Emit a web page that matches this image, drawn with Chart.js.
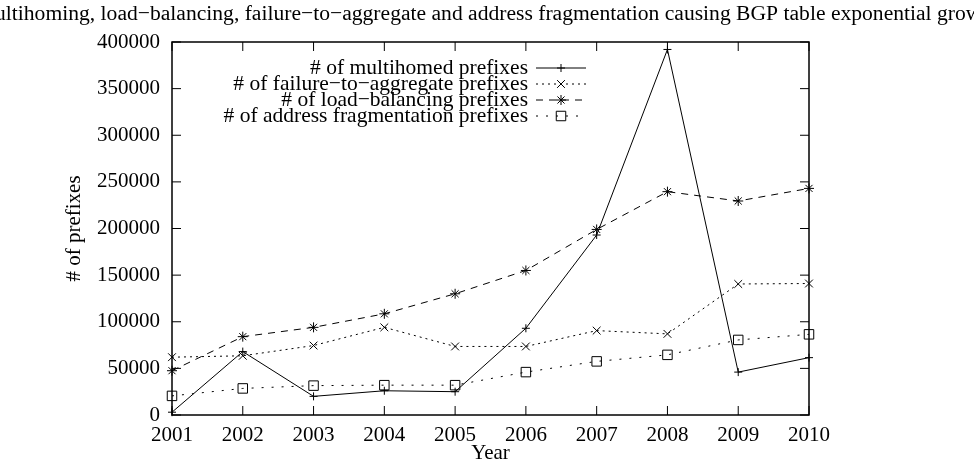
<!DOCTYPE html>
<html>
<head>
<meta charset="utf-8">
<script src="https://cdn.jsdelivr.net/npm/chart.js@4.4.0/dist/chart.umd.min.js"></script>
<style>
    html, body { margin: 0; padding: 0; background: #fff; }
</style>
</head>
<body>
<canvas id="bgp" width="974" height="466"></canvas>
<script>
// anos (eixo X)
var years = ['2001', '2002', '2003', '2004', '2005', '2006', '2007', '2008', '2009', '2010'];
// series
var multihomed = [3000, 68000, 20000, 26000, 25000, 93000, 193000, 392000, 46000, 61500];
var failureToAggregate = [62000, 63500, 74500, 94000, 73500, 73500, 90500, 87000, 140500, 141000];
var loadBalancing = [47500, 84000, 94000, 108500, 130000, 155000, 199000, 239500, 229500, 243000];
var addressFragmentation = [20500, 28500, 31500, 32000, 32000, 46000, 57500, 64500, 80500, 86500];
// eixo Y
var yMax = 400000;
var yStep = 50000;

var chartTitle = 'Multihoming, load\u2212balancing, failure\u2212to\u2212aggregate and address fragmentation causing BGP table exponential growth';
var serif = '"Liberation Serif", "Times New Roman", serif';

// title wider than the canvas: drawn centred and left to be cut at both sides
var wideTitle = {
    id: 'wideTitle',
    afterDraw: function (chart) {
        var ctx = chart.ctx;
        ctx.save();
        ctx.font = '21.6px ' + serif;
        ctx.fillStyle = '#000';
        ctx.textAlign = 'center';
        ctx.textBaseline = 'middle';
        ctx.fillText(chartTitle, chart.width / 2, 14);
        ctx.restore();
    }
};

// gnuplot style legend: text right aligned, sample on the right
var gnuplotLegend = {
    id: 'gnuplotLegend',
    afterDatasetsDraw: function (chart) {
        var ctx = chart.ctx;
        ctx.save();
        ctx.font = '21.5px ' + serif;
        ctx.textAlign = 'right';
        ctx.textBaseline = 'middle';
        chart.data.datasets.forEach(function (ds, i) {
            var y = 68 + i * 16;
            ctx.fillStyle = '#000';
            ctx.fillText(ds.label, 528, y);
            ctx.strokeStyle = '#000';
            ctx.lineWidth = 1;
            ctx.setLineDash(ds.borderDash || []);
            ctx.beginPath();
            ctx.moveTo(536, y);
            ctx.lineTo(586, y);
            ctx.stroke();
            ctx.setLineDash([]);
            ctx.fillStyle = 'rgba(0,0,0,0)';
            Chart.helpers.drawPoint(ctx, {pointStyle: ds.pointStyle, radius: ds.pointRadius, borderWidth: 1, rotation: 0}, 561, y);
        });
        ctx.restore();
    }
};

// frame + ticks pointing inwards (all four sides)
var innerTicks = {
    id: 'innerTicks',
    afterDraw: function (chart) {
        var a = chart.chartArea, sx = chart.scales.x, sy = chart.scales.y, ctx = chart.ctx;
        ctx.save();
        ctx.strokeStyle = '#000';
        ctx.lineWidth = 1;
        ctx.beginPath();
        sx.ticks.forEach(function (t, i) {
            var px = sx.getPixelForTick(i);
            ctx.moveTo(px, a.bottom); ctx.lineTo(px, a.bottom - 9);
            ctx.moveTo(px, a.top); ctx.lineTo(px, a.top + 9);
        });
        sy.ticks.forEach(function (t, i) {
            var py = sy.getPixelForTick(i);
            ctx.moveTo(a.left, py); ctx.lineTo(a.left + 9, py);
            ctx.moveTo(a.right, py); ctx.lineTo(a.right - 9, py);
        });
        ctx.stroke();
        ctx.lineWidth = 1.5;
        ctx.strokeRect(a.left, a.top, a.right - a.left, a.bottom - a.top);
        ctx.restore();
    }
};

function serie(label, data, dash, style, radius) {
    return {
        label: label,
        data: data,
        borderColor: '#000',
        borderWidth: 1,
        borderDash: dash,
        pointStyle: style,
        pointRadius: radius,
        pointBorderColor: '#000',
        pointBackgroundColor: 'rgba(0,0,0,0)',
        pointBorderWidth: 1,
        tension: 0,
        fill: false,
        clip: false
    };
}

var chart = new Chart(document.getElementById('bgp'), {
    type: 'line',
    data: {
        labels: years,
        datasets: [
            serie('# of multihomed prefixes', multihomed, [], 'cross', 4),
            serie('# of failure\u2212to\u2212aggregate prefixes', failureToAggregate, [2, 4], 'crossRot', 5.5),
            serie('# of load\u2212balancing prefixes', loadBalancing, [7, 6], 'star', 5),
            serie('# of address fragmentation prefixes', addressFragmentation, [2, 8], 'rect', 6.7)
        ]
    },
    options: {
        responsive: false,
        animation: false,
        layout: { padding: { left: 0, right: 165, top: 42, bottom: 0 } },
        plugins: {
            legend: { display: false },
            tooltip: { enabled: false },
            title: { display: false }
        },
        scales: {
            x: {
                type: 'category',
                offset: false,
                grid: { display: false, drawTicks: false },
                border: { display: false },
                ticks: { color: '#000', font: { family: serif, size: 21 }, padding: 8, autoSkip: false, maxRotation: 0 },
                title: { display: true, text: 'Year', color: '#000', font: { family: serif, size: 21 }, padding: { top: 0, bottom: 0 } },
                afterFit: function (scale) { scale.height = 51; }
            },
            y: {
                min: 0,
                max: yMax,
                grid: { display: false, drawTicks: false },
                border: { display: false },
                ticks: {
                    stepSize: yStep, color: '#000', font: { family: serif, size: 21 }, padding: 12,
                    callback: function (v) { return String(v); }
                },
                title: { display: true, text: '# of prefixes', color: '#000', font: { family: serif, size: 21 }, padding: { top: 62, bottom: 0 } },
                afterFit: function (scale) { scale.width = 172; }
            }
        }
    },
    plugins: [gnuplotLegend, innerTicks, wideTitle]
});
</script>
</body>
</html>
